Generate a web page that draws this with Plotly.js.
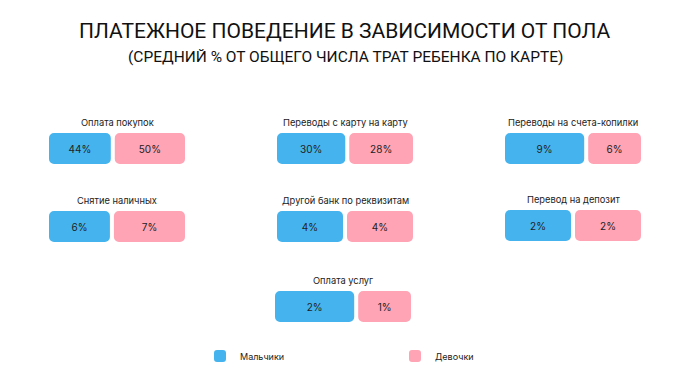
<!DOCTYPE html>
<html>
<head>
<meta charset="utf-8">
<script src="https://cdn.plot.ly/plotly-3.0.1.min.js"></script>
<style>html,body{margin:0;padding:0;background:#fff}#chart{width:690px;height:385px}</style>
</head>
<body>
<div id="chart"></div>
<script>
// ---- data ----
const categories = ["Оплата покупок", "Переводы с карту на карту", "Переводы на счета-копилки",
                    "Снятие наличных", "Другой банк по реквизитам", "Перевод на депозит", "Оплата услуг"];
const boysValues  = [44, 30, 9, 6, 4, 2, 1.5];
const girlsValues = [50, 28, 6, 7, 4, 2, 1];
const seriesNames = ["Мальчики", "Девочки"];

// ---- styling / layout ----
const W = 690, H = 385;
const colors = ["#45b4ee", "#ffa4b5"];
const boxX = [49, 277, 505, 49, 277, 505, 275];
const boxY = [133, 133, 133, 211, 211, 210, 291];
const boxW = 136, boxH = 31, gapPx = 4;
const font = "Inter, Roboto, 'Open Sans', sans-serif";

const traces = [];
const layout = {
  width: W, height: H,
  margin: {l: 0, r: 0, t: 0, b: 0},
  paper_bgcolor: "#fff", plot_bgcolor: "rgba(0,0,0,0)",
  barmode: "overlay",
  showlegend: true,
  legend: {orientation: "h", x: 200 / W, xanchor: "left", y: 1 - 356 / H, yanchor: "middle",
           entrywidth: 150, entrywidthmode: "pixels", itemwidth: 30,
           font: {family: font, size: 9, color: "#222"}, bgcolor: "rgba(0,0,0,0)"},
  annotations: [
    {text: "ПЛАТЕЖНОЕ ПОВЕДЕНИЕ В ЗАВИСИМОСТИ ОТ ПОЛА", xref: "paper", yref: "paper",
     x: 0.5, y: 1 - 31 / H, xanchor: "center", yanchor: "middle", showarrow: false,
     font: {family: "Roboto, sans-serif", size: 21, color: "#111"}},
    {text: "(СРЕДНИЙ % ОТ ОБЩЕГО ЧИСЛА ТРАТ РЕБЕНКА ПО КАРТЕ)", xref: "paper", yref: "paper",
     x: 0.5, y: 1 - 57 / H, xanchor: "center", yanchor: "middle", showarrow: false,
     font: {family: "Roboto, sans-serif", size: 15.5, color: "#111"}}
  ],
  hovermode: false
};

categories.forEach((cat, i) => {
  const n = i + 1;
  const xa = "x" + (n === 1 ? "" : n), ya = "y" + (n === 1 ? "" : n);
  const axKeyX = "xaxis" + (n === 1 ? "" : n), axKeyY = "yaxis" + (n === 1 ? "" : n);
  layout[axKeyX] = {domain: [boxX[i] / W, (boxX[i] + boxW) / W], range: [0, 1],
                    visible: false, fixedrange: true};
  layout[axKeyY] = {domain: [1 - (boxY[i] + boxH) / H, 1 - boxY[i] / H], range: [-0.5, 0.5],
                    visible: false, fixedrange: true};
  const gap = gapPx / boxW;
  const vals = [boysValues[i], girlsValues[i]];
  const total = vals[0] + vals[1];
  let start = 0;
  vals.forEach((v, k) => {
    const w = v / total * (1 - gap);
    traces.push({type: "bar", orientation: "h", xaxis: xa, yaxis: ya,
      y: [0], x: [w], base: [start], width: [1],
      marker: {color: colors[k], cornerradius: 5, line: {width: 0}},
      text: [Math.round(v) + "%"], textposition: "inside", insidetextanchor: "middle",
      textangle: 0, constraintext: "none",
      textfont: {family: font, size: 10, color: "#222"},
      name: seriesNames[k], legendgroup: seriesNames[k], showlegend: i === 0,
      hoverinfo: "skip"});
    start = start + w + gap;
  });
  layout.annotations.push({text: cat, xref: xa + " domain", yref: ya + " domain",
    x: 0.5, y: 1, xanchor: "center", yanchor: "bottom", yshift: 3, showarrow: false,
    font: {family: font, size: 9.3, color: "#222"}});
});

Plotly.newPlot("chart", traces, layout, {staticPlot: true, displayModeBar: false});
</script>
</body>
</html>
